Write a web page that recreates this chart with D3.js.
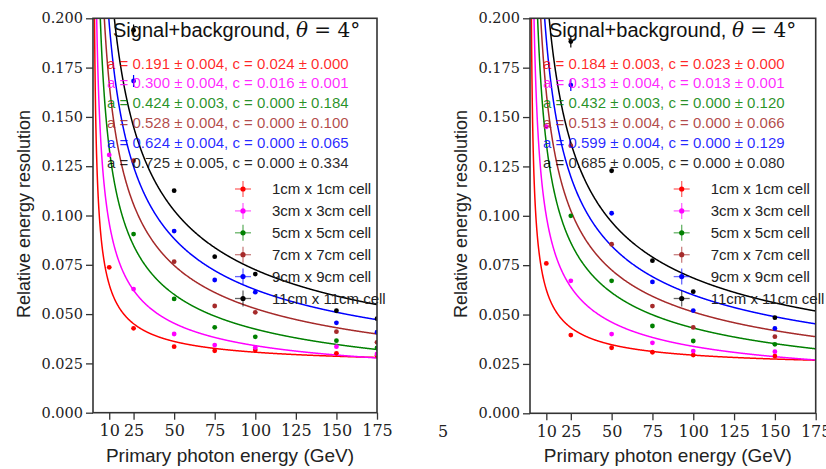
<!DOCTYPE html>
<html>
<head>
<meta charset="utf-8">
<script src="https://cdn.jsdelivr.net/npm/d3@7"></script>
<style>
  body { margin: 0; background: #fff; }
  svg { display: block; }
</style>
</head>
<body>
<svg id="chart" width="826" height="469"></svg>
<script>
// ---- data ----
var cellLabels = ["1cm x 1cm cell", "3cm x 3cm cell", "5cm x 5cm cell",
                  "7cm x 7cm cell", "9cm x 9cm cell", "11cm x 11cm cell"];
var cellColors = ["#ff0000", "#ff00ff", "#008000", "#a52a2a", "#0000ff", "#000000"];

var xTicks = [10, 25, 50, 75, 100, 125, 150, 175];
var yTicks = [0, 0.025, 0.05, 0.075, 0.1, 0.125, 0.15, 0.175, 0.2];

// left panel
var energyL = [10, 25, 50, 75, 100, 150, 175];
var res1L  = [0.0737, 0.0428, 0.0335, 0.0314, 0.0318, 0.0301, 0.0290];
var res3L  = [0.1307, 0.0627, 0.0399, 0.0343, 0.0330, 0.0335, 0.0298];
var res5L  = [null,   0.0906, 0.0577, 0.0433, 0.0385, 0.0365, 0.0328];
var res7L  = [null,   0.1278, 0.0766, 0.0541, 0.0509, 0.0411, 0.0357];
var res9L  = [null,   0.1682, 0.0921, 0.0673, 0.0611, 0.0456, 0.0408];
var res11L = [null,   0.1940, 0.1126, 0.0791, 0.0703, 0.0517, 0.0477];
var errSmallL = [0.0005, 0.0005, 0.0005, 0.0005, 0.0005, 0.0005, 0.0005];
var err9L  = [0, 0.003, 0.0006, 0.0005, 0.0005, 0.0005, 0.0005];
var err11L = [0, 0.0028, 0.0008, 0.0005, 0.0005, 0.0005, 0.0005];
var aL    = [0.191, 0.300, 0.424, 0.528, 0.624, 0.725];
var aErrL = [0.004, 0.004, 0.003, 0.004, 0.004, 0.005];
var cL    = [0.024, 0.016, 0.000, 0.000, 0.000, 0.000];
var cErrL = [0.000, 0.001, 0.184, 0.100, 0.065, 0.334];

// right panel
var energyR = [10, 25, 50, 75, 100, 150];
var res1R  = [0.0759, 0.0396, 0.0332, 0.0309, 0.0295, 0.0290];
var res3R  = [0.1451, 0.0671, 0.0401, 0.0357, 0.0315, 0.0312];
var res5R  = [null,   0.1000, 0.0671, 0.0442, 0.0366, 0.0349];
var res7R  = [null,   0.1355, 0.0856, 0.0543, 0.0435, 0.0388];
var res9R  = [null,   0.1662, 0.1013, 0.0665, 0.0520, 0.0430];
var res11R = [null,   0.1882, 0.1228, 0.0773, 0.0616, 0.0484];
var errSmallR = [0.0005, 0.0005, 0.0005, 0.0005, 0.0005, 0.0005];
var err9R  = [0, 0.003, 0.0006, 0.0005, 0.0005, 0.0005];
var err11R = [0, 0.003, 0.0008, 0.0005, 0.0005, 0.0005];
var aR    = [0.184, 0.313, 0.432, 0.513, 0.599, 0.685];
var aErrR = [0.003, 0.004, 0.003, 0.004, 0.004, 0.005];
var cR    = [0.023, 0.013, 0.000, 0.000, 0.000, 0.000];
var cErrR = [0.000, 0.001, 0.120, 0.066, 0.129, 0.080];

var svg = d3.select("#chart");
var sans = "'Liberation Sans', Arial, sans-serif";
var serif = "'DejaVu Serif', serif";
var f3 = d3.format(".3f");

var drawPanel = function(p) {
  var x = d3.scaleLinear().domain([0, 175]).range([p.left, p.right]);
  var y = d3.scaleLinear().domain([0, 0.2]).range([p.bottom, p.top]);
  var g = svg.append("g");

  g.append("clipPath").attr("id", "clip" + p.id)
    .append("rect")
    .attr("x", p.left).attr("y", p.top)
    .attr("width", p.right - p.left).attr("height", p.bottom - p.top);

  var plot = g.append("g").attr("clip-path", "url(#clip" + p.id + ")");

  // fit curves  sigma/E = a/sqrt(E) (+) c
  var eGrid = d3.range(0.2, 175.01, 0.2);
  p.a.forEach(function(a, i) {
    var c = p.c[i];
    var line = d3.line()
      .x(function(e) { return x(e); })
      .y(function(e) { return y(Math.min(0.3, Math.sqrt(a * a / e + c * c))); });
    plot.append("path").datum(eGrid)
      .attr("d", line)
      .attr("fill", "none")
      .attr("stroke", cellColors[i])
      .attr("stroke-width", 1.5);
  });

  // data points with error bars
  p.series.forEach(function(vals, i) {
    var pts = vals.map(function(v, j) { return {e: p.energy[j], v: v, err: p.errs[i][j]}; })
      .filter(function(d) { return d.v !== null; });
    var pg = plot.append("g");
    pg.selectAll("line").data(pts).enter().append("line")
      .attr("x1", function(d) { return x(d.e); })
      .attr("x2", function(d) { return x(d.e); })
      .attr("y1", function(d) { return y(d.v - d.err); })
      .attr("y2", function(d) { return y(d.v + d.err); })
      .attr("stroke", cellColors[i])
      .attr("stroke-width", 1.2);
    pg.selectAll("circle").data(pts).enter().append("circle")
      .attr("cx", function(d) { return x(d.e); })
      .attr("cy", function(d) { return y(d.v); })
      .attr("r", 2.4)
      .attr("fill", cellColors[i]);
  });

  // axes
  var xAxis = d3.axisBottom(x).tickValues(xTicks).tickSizeOuter(0).tickSize(7).tickPadding(5);
  var yAxis = d3.axisLeft(y).tickValues(yTicks).tickFormat(f3).tickSizeOuter(0).tickSize(7).tickPadding(3);
  var gx = g.append("g").attr("transform", "translate(0," + p.bottom + ")").call(xAxis);
  var gy = g.append("g").attr("transform", "translate(" + p.left + ",0)").call(yAxis);
  [gx, gy].forEach(function(ax) {
    ax.select(".domain").remove();
    ax.selectAll(".tick line").attr("stroke", "#333").attr("stroke-width", 1.3);
    ax.selectAll(".tick text").attr("font-family", serif).attr("font-size", 14.5).attr("fill", "#222");
  });
  gx.selectAll(".tick text").attr("font-size", 16);

  g.append("rect")
    .attr("x", p.left).attr("y", p.top)
    .attr("width", p.right - p.left).attr("height", p.bottom - p.top)
    .attr("fill", "none").attr("stroke", "#333").attr("stroke-width", 1.6);

  // axis titles
  g.append("text")
    .attr("x", (p.left + p.right) / 2 - 5).attr("y", 462)
    .attr("text-anchor", "middle")
    .attr("font-family", sans).attr("font-size", 19).attr("fill", "#222")
    .text("Primary photon energy (GeV)");
  g.append("text")
    .attr("transform", "translate(" + p.ylabX + ",214) rotate(-90)")
    .attr("text-anchor", "middle").attr("dy", "0.35em")
    .attr("font-family", sans).attr("font-size", 18).attr("fill", "#222")
    .text("Relative energy resolution");

  // title
  var t = g.append("text")
    .attr("x", p.textX + 6).attr("y", 30).attr("dy", "0.35em")
    .attr("font-family", sans).attr("font-size", 20).attr("fill", "#111");
  t.append("tspan").text("Signal+background, ");
  t.append("tspan").attr("font-family", serif).attr("font-style", "italic").text("\u03b8");
  t.append("tspan").attr("font-family", serif).text(" = 4\u00b0");

  // fit results
  p.a.forEach(function(a, i) {
    g.append("text")
      .attr("x", p.textX).attr("y", 63.3 + i * 19.9).attr("dy", "0.35em")
      .attr("font-family", sans).attr("font-size", 15)
      .attr("fill", cellColors[i]).attr("fill-opacity", 0.85)
      .text("a = " + f3(a) + " \u00b1 " + f3(p.aErr[i]) + ", c = " + f3(p.c[i]) + " \u00b1 " + f3(p.cErr[i]));
  });

  // legend
  cellLabels.forEach(function(lab, i) {
    var ly = 189 + i * 21.9;
    var lg = g.append("g");
    lg.append("line").attr("x1", p.legX - 8).attr("x2", p.legX + 8).attr("y1", ly).attr("y2", ly)
      .attr("stroke", cellColors[i]).attr("stroke-opacity", 0.6).attr("stroke-width", 1.3);
    lg.append("line").attr("x1", p.legX).attr("x2", p.legX).attr("y1", ly - 8).attr("y2", ly + 8)
      .attr("stroke", cellColors[i]).attr("stroke-opacity", 0.6).attr("stroke-width", 1.3);
    lg.append("circle").attr("cx", p.legX).attr("cy", ly).attr("r", 2.6).attr("fill", cellColors[i]);
    lg.append("text").attr("x", p.legX + 29).attr("y", ly).attr("dy", "0.35em")
      .attr("font-family", sans).attr("font-size", 15).attr("fill", "#222")
      .text(lab);
  });
};

drawPanel({
  id: "L", left: 93, right: 377, top: 18.3, bottom: 412.7,
  energy: energyL,
  errs: [errSmallL, errSmallL, errSmallL, errSmallL, err9L, err11L],
  series: [res1L, res3L, res5L, res7L, res9L, res11L],
  a: aL, aErr: aErrL, c: cL, cErr: cErrL,
  textX: 107, legX: 243, ylabX: 24
});
drawPanel({
  id: "R", left: 530, right: 815.7, top: 18.3, bottom: 413.3,
  energy: energyR,
  errs: [errSmallR, errSmallR, errSmallR, errSmallR, err9R, err11R],
  series: [res1R, res3R, res5R, res7R, res9R, res11R],
  a: aR, aErr: aErrR, c: cR, cErr: cErrR,
  textX: 543, legX: 681.7, ylabX: 461
});

// cropped leftover of a tick label between the two panels
svg.append("text").attr("x", 438).attr("y", 437)
  .attr("font-family", serif).attr("font-size", 16).attr("fill", "#222").text("5");
</script>
</body>
</html>
